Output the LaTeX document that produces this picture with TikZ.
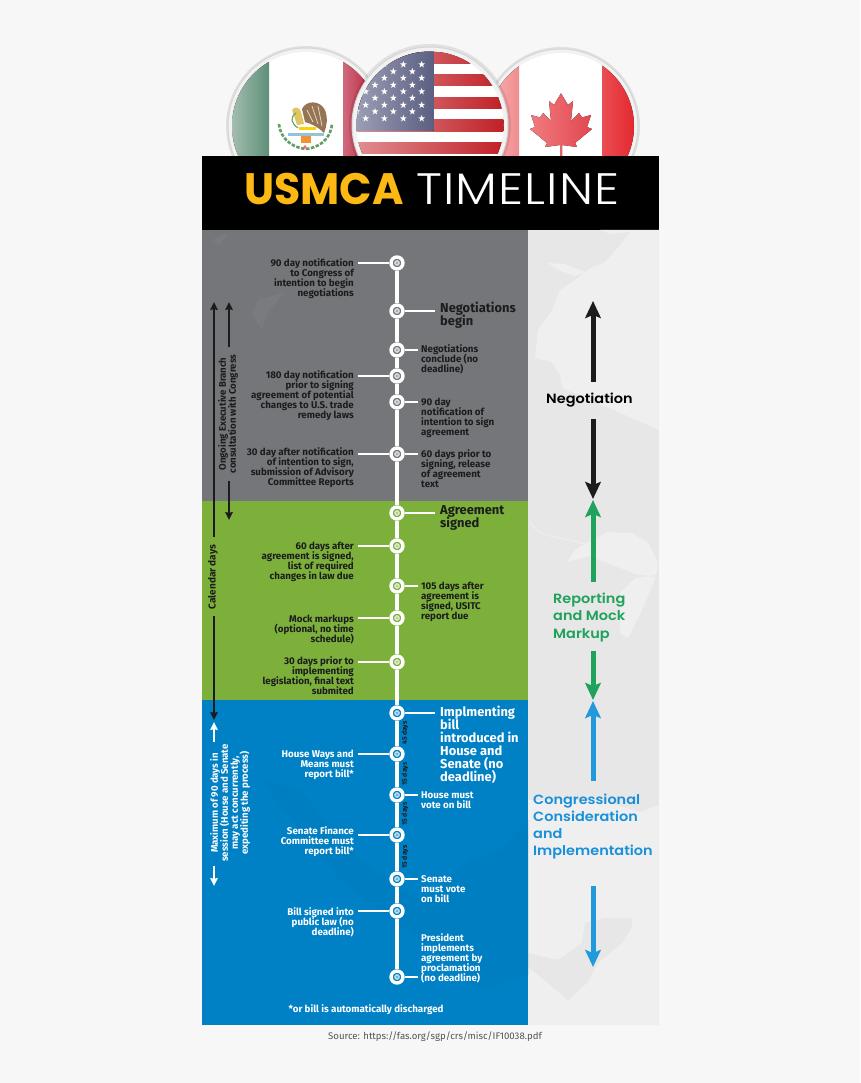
\documentclass[tikz,border=0pt]{standalone}
\usepackage{fontspec}
\usetikzlibrary{arrows.meta}
\setmainfont{Fira Sans}
\newfontfamily\popb{Poppins}[UprightFont=* Bold]
\newfontfamily\popl{Poppins}[UprightFont=* Light,FakeStretch=1.13,LetterSpace=2.5]
\newfontfamily\pops{Poppins}[UprightFont=* SemiBold,FakeStretch=1.08]
\lineskiplimit=-20pt
\lineskip=0pt
\definecolor{pagebg}{HTML}{F7F7F7}
\definecolor{graypanel}{HTML}{75767A}
\definecolor{greenpanel}{HTML}{7CB03B}
\definecolor{bluepanel}{HTML}{0081C6}
\definecolor{rightland}{HTML}{E7E7E7}
\definecolor{rightlight}{HTML}{EFEFEF}
\definecolor{titlegold}{HTML}{FDB913}
\definecolor{inkdark}{HTML}{1C1C1C}
\definecolor{armgreen}{HTML}{1FA25C}
\definecolor{armblue}{HTML}{2199DA}
\definecolor{txtblue}{HTML}{1A90DA}
\definecolor{mxgreenL}{HTML}{A3BDAE}
\definecolor{mxgreenR}{HTML}{5F8F78}
\definecolor{mxredL}{HTML}{CF6A7C}
\definecolor{mxredR}{HTML}{B8142E}
\definecolor{caredL}{HTML}{F9B4B6}
\definecolor{caredM}{HTML}{F08C90}
\definecolor{caredR}{HTML}{E32228}
\definecolor{caleafL}{HTML}{F07B80}
\definecolor{caleafR}{HTML}{E2474D}
\definecolor{usredL}{HTML}{E29396}
\definecolor{usredR}{HTML}{BE1C22}
\definecolor{usblueL}{HTML}{A0A3B8}
\definecolor{usblueR}{HTML}{5B5F82}
\newcommand{\fl}{\rule{0pt}{7.5pt}}
\newcommand{\usstar}[2]{\fill[white,shift={(#1,#2)},scale=1.2] (0,-3)--(-.7,-.95)--(-2.85,-.93)--(-1.13,.37)--(-1.76,2.43)--(0,1.2)--(1.76,2.43)--(1.13,.37)--(2.85,-.93)--(.7,-.95)--cycle;}
\tikzset{
  x=1pt,y=-1pt,
  rim/.style={fill=#1,draw=black!16,line width=1pt},
  halo/.style={fill=black,opacity=.09},
  stopring/.style={circle,draw=white,line width=3.4pt,fill=#1,minimum size=12pt,inner sep=0pt,
    path picture={\fill[white,opacity=.72] (path picture bounding box.center) circle (2.9);
                  \fill[#1,opacity=.6] (path picture bounding box.center) circle (1.2);}},
  spine/.style={draw=white,line width=3.4pt},
  branch/.style={draw=white,line width=2.2pt},
  lablabel/.style={inner sep=0pt,font=\fontsize{9.75}{10}\selectfont\bfseries,text=#1},
  leftlab/.style={lablabel=#1,anchor=north east,align=right},
  rightlab/.style={lablabel=#1,anchor=north west,align=left},
  biglab/.style={inner sep=0pt,font=\fontsize{12.9}{13}\selectfont\bfseries,text=#1,anchor=north west,align=left},
  sidelab/.style={inner sep=0pt,font=\fontsize{9.6}{10}\selectfont\bfseries,text=#1,rotate=90,align=center},
  daylab/.style={inner sep=0pt,font=\fontsize{6.8}{7}\selectfont\bfseries,text=inkdark,rotate=90},
  thin arrow/.style={draw=#1,line width=2pt,-{Stealth[length=8pt,width=7.5pt,inset=1pt]}},
  fat arrow/.style={draw=#1,line width=5pt,-{Stealth[length=17pt,width=15.5pt,inset=3pt]}},
  armtext/.style={inner sep=0pt,anchor=west,align=left,font=\fontsize{13.4}{17.3}\pops,text=#1},
}
\begin{document}
\begin{tikzpicture}
\useasboundingbox (0,0) rectangle (860,1083);
\fill[pagebg] (0,0) rectangle (860,1083);

% ---- flags
\fill[halo] (306,126) circle (80);
\fill[halo] (561,126) circle (79);
\fill[rim=white!95!black] (306,126) circle (78);
\begin{scope}
  \clip (306,126) circle (74);
  \fill[white] (232,50) rectangle (380,160);
  \fill[left color=mxgreenL,right color=mxgreenR] (232,50) rectangle (269,160);
  \fill[left color=mxredL,right color=mxredR] (343,50) rectangle (380,160);
  % emblem
  \draw[green!35!black!60!white,line width=2.6pt,dash pattern=on 3.5pt off 1.5pt] (279,124) .. controls (281,142) and (296,148) .. (306,149) .. controls (316,148) and (330,142) .. (332,124);
  \fill[brown!65!black!80!white] (302,109) .. controls (306,100) and (320,100) .. (325,110) .. controls (328,118) and (327,126) .. (324,133) .. controls (318,127) and (312,124) .. (305,122) -- cycle;
  \draw[white!70!brown,line width=.7pt] (312,106)--(318,124) (318,106)--(322,126) (307,110)--(313,122);
  \fill[yellow!40!brown!80!white] (292,110) .. controls (295,105) and (300,108) .. (301,112) -- (304,124) -- (297,125) -- cycle;
  \draw[green!40!black!60!white,line width=1.1pt] (296,113) .. controls (289,118) and (292,124) .. (298,128);
  \fill[yellow!70!orange] (299,127) rectangle (316,130);
  \fill[cyan!50!gray!65!white] (288,133) rectangle (324,136.5);
  \fill[orange!70!brown!85!white] (301,136) rectangle (311,143);
  \fill[red!60!white] (305,147) circle (1.8);
\end{scope}

\fill[rim=white!95!black] (561,126) circle (77);
\begin{scope}
  \clip (561,126) circle (73);
  \fill[white] (488,50) rectangle (640,160);
  \fill[left color=caredL,right color=caredM] (488,50) rectangle (519,160);
  \fill[left color=caredR!80!white,right color=caredR] (602,50) rectangle (640,160);
  \fill[left color=caleafL,right color=caleafR]
    (561,93.3)--(568,105)--(573,101)--(571,121)--(579,113)--(582,117.5)--(591,115)--(587,127)--(592,129)--(575,143)--(577,147)--(562,145)--(562,156)--(560,156)--(560,145)--(545,147)--(547,143)--(530,129)--(535,127)--(531,115)--(540,117.5)--(543,113)--(551,121)--(549,101)--(554,105)--cycle;
\end{scope}

\fill[halo] (430,125) circle (81);
\fill[rim=white!95!black] (430,125) circle (78);
\begin{scope}
  \clip (430,125) circle (73.5);
  \fill[white] (350,50) rectangle (510,205);
  \foreach \yy in {52,74.6,97.2,119.8,142.4}
    \fill[left color=usredL,right color=usredR] (350,\yy) rectangle (510,\yy+11.3);
  \fill[left color=usblueL,right color=usblueR] (350,50) rectangle (433.5,131);
  \foreach \yy in {64.5,78,91.5,105,118.5}{\foreach \xx in {365.7,384.3,403.3,421.7}{\usstar{\xx}{\yy}}}
  \foreach \yy in {71.5,85,98,111.5}{\foreach \xx in {356.7,375,393.3,412.3}{\usstar{\xx}{\yy}}}
\end{scope}

% ---- panels
\fill[black] (202,156) rectangle (659,230);
\fill[graypanel] (202,230) rectangle (528,501);
\fill[greenpanel] (202,501) rectangle (528,700);
\fill[bluepanel] (202,700) rectangle (528,1025);
\fill[rightland] (528,230) rectangle (659,1025);

% ---- faint map
\fill[rightlight] (600,230)--(610,234)--(630,232)--(620,245)--(605,262)--(590,268)--(575,280)--(560,290)--(552,310)--(538,330)--(535,358)--(552,362)--(560,375)--(562,388)--(590,400)--(625,415)--(659,430)--(659,230)--cycle;
\fill[rightlight] (548,263)--(565,264)--(585,272)--(575,276)--(558,270)--cycle;
\fill[rightlight] (567,562)--(575,550)--(588,542)--(608,532)--(632,533)--(648,543)--(658,563)--(656,575)--(635,578)--(620,593)--(620,633)--(628,638)--(642,610)--(656,577)--(635,574)--(600,560)--(590,556)--cycle;
\draw[rightlight,line width=1pt] (530,522) .. controls (540,540) and (560,535) .. (588,545);
\fill[rightlight] (528,800)--(600,800)--(640,812)--(659,805)--(659,1025)--(528,1025)--cycle;
\fill[rightland] (585,923)--(605,918)--(632,918)--(632,927)--(622,943)--(598,963)--(587,983)--(568,1000)--(548,983)--(528,967)--(528,953)--(558,960)--(582,943)--cycle;
\fill[graypanel!96!white] (258,300)--(285,292)--(268,312)--(262,330)--(252,315)--cycle;
\fill[graypanel!96!white] (212,240)--(228,233)--(220,245)--cycle;
\fill[bluepanel!98!black] (260,780)--(300,830)--(340,880)--(420,940)--(480,990)--(528,975)--(528,820)--(500,850)--(470,860)--(420,900)--(360,860)--(300,790)--cycle;

% ---- title
\node[inner sep=0pt,anchor=base west,font=\fontsize{44}{44}\popb,text=titlegold] (ttlA) at (244,205) {\scalebox{.97}[1]{USMCA}};
\node[inner sep=0pt,anchor=base west,font=\fontsize{44}{44}\popl,text=white] (ttlB) at (416,205) {TIMELINE};

% ---- stops
\node[stopring=graypanel] (s1) at (397,263) {};
\node[stopring=graypanel] (s2) at (397,311) {};
\node[stopring=graypanel] (s3) at (397,350) {};
\node[stopring=graypanel] (s4) at (397,376) {};
\node[stopring=graypanel] (s5) at (397,402) {};
\node[stopring=graypanel] (s6) at (397,454) {};
\node[stopring=greenpanel] (s7) at (397,513) {};
\node[stopring=greenpanel] (s8) at (397,546) {};
\node[stopring=greenpanel] (s9) at (397,586) {};
\node[stopring=greenpanel] (s10) at (397,618) {};
\node[stopring=greenpanel] (s11) at (397,662) {};
\node[stopring=bluepanel] (s12) at (397,713) {};
\node[stopring=bluepanel] (s13) at (397,754) {};
\node[stopring=bluepanel] (s14) at (397,795) {};
\node[stopring=bluepanel] (s15) at (397,835) {};
\node[stopring=bluepanel] (s16) at (397,879) {};
\node[stopring=bluepanel] (s17) at (397,911) {};
\node[stopring=bluepanel] (s18) at (397,977) {};
\draw[spine] (s1)--(s2) (s2)--(s3) (s3)--(s4) (s4)--(s5) (s5)--(s6) (s6)--(s7) (s7)--(s8) (s8)--(s9) (s9)--(s10) (s10)--(s11) (s11)--(s12) (s12)--(s13) (s13)--(s14) (s14)--(s15) (s15)--(s16) (s16)--(s17) (s17)--(s18);

% ---- branch ends
\foreach \nm/\xx/\yy in {e1/358/263,e2/435/311,e3/418/350,e4/358/376,e5/418/402,e6/358/454,f6/418/454,e7/435/513,e8/358/546,e9/418/586,e10/358/618,e11/358/662,e12/435/713,e13/358/754,e14/418/795,e15/358/835,e16/418/879,e17/358/911,e18/418/977}
  \coordinate (\nm) at (\xx,\yy);
\draw[branch] (s1)--(e1) (s2)--(e2) (s3)--(e3) (s4)--(e4) (s5)--(e5) (s6)--(e6) (s6)--(f6) (s7)--(e7) (s8)--(e8) (s9)--(e9) (s10)--(e10) (s11)--(e11) (s12)--(e12) (s13)--(e13) (s14)--(e14) (s15)--(e15) (s16)--(e16) (s17)--(e17) (s18)--(e18);

% ---- left labels
\node[leftlab=inkdark] (l1) at (354,258.7) {\fl 90 day notification\\to Congress of\\intention to begin\\negotiations};
\node[leftlab=inkdark] (l4) at (354,370.7) {\fl 180 day notification\\prior to signing\\agreement of potential\\changes to U.S. trade\\remedy laws};
\node[leftlab=inkdark] (l6) at (354,447.7) {\fl 30 day after notification\\of intention to sign,\\submission of Advisory\\Committee Reports};
\node[leftlab=inkdark] (l8) at (354,541.7) {\fl 60 days after\\agreement is signed,\\list of required\\changes in law due};
\node[leftlab=inkdark] (l10) at (354,614.7) {\fl Mock markups\\(optional, no time\\schedule)};
\node[leftlab=inkdark] (l11) at (354,656.7) {\fl 30 days prior to\\implementing\\legislation, final text\\submited};
\node[leftlab=white] (l13) at (354,749.7) {\fl House Ways and\\Means must\\report bill*};
\node[leftlab=white] (l15) at (354,826.7) {\fl Senate Finance\\Committee must\\report bill*};
\node[leftlab=white] (l17) at (354,907.7) {\fl Bill signed into\\public law (no\\deadline)};

% ---- right labels
\node[rightlab=inkdark] (r3) at (421,344.7) {\fl Negotiations\\conclude (no\\deadline)};
\node[rightlab=inkdark] (r5) at (421,397.7) {\fl 90 day\\notification of\\intention to sign\\agreement};
\node[rightlab=inkdark] (r6) at (421,449.7) {\fl 60 days prior to\\signing, release\\of agreement\\text};
\node[rightlab=inkdark] (r9) at (421,581.7) {\fl 105 days after\\agreement is\\signed, USITC\\report due};
\node[rightlab=white] (r14) at (421,790.7) {\fl House must\\vote on bill};
\node[rightlab=white] (r16) at (421,874.7) {\fl Senate\\must vote\\on bill};
\node[rightlab=white] (r18) at (421,933.7) {\fl President\\implements\\agreement by\\proclamation\\(no deadline)};
\node[biglab=inkdark] (b2) at (440,302) {Negotiations\\begin};
\node[biglab=inkdark] (b7) at (440,505.5) {Agreement\\signed};
\node[biglab=white] (b12) at (440,706) {Implmenting\\bill\\introduced in\\House and\\Senate (no\\deadline)};

% ---- day labels
\node[daylab] (d1) at (405,733) {45 days};
\node[daylab] (d2) at (405,774) {15 days};
\node[daylab] (d3) at (405,814) {15 days};
\node[daylab] (d4) at (405,857) {15 days};

% ---- side arrows
\node[sidelab=inkdark] (t1) at (228,414) {Ongoing Executive Branch\\consultation with Congress};
\node[sidelab=inkdark] (t2) at (213,577) {\fontsize{10}{10}\selectfont Calendar days};
\node[sidelab=white] (t3) at (230,803) {Maximum of 90 days in\\session (House and Senate\\may act concurrently,\\expediting the process)};
\coordinate (a1) at (229,347); \coordinate (a2) at (229,302);
\coordinate (a3) at (229,481); \coordinate (a4) at (229,520);
\coordinate (a5) at (214,537); \coordinate (a6) at (214,302);
\coordinate (a7) at (214,616); \coordinate (a8) at (214,720);
\coordinate (a9) at (214,742); \coordinate (a10) at (214,722);
\coordinate (a11) at (214,866); \coordinate (a12) at (214,886);
\draw[thin arrow=inkdark] (a1)--(a2);
\draw[thin arrow=inkdark] (a3)--(a4);
\draw[thin arrow=inkdark] (a5)--(a6);
\draw[thin arrow=inkdark] (a7)--(a8);
\draw[thin arrow=white] (a9)--(a10);
\draw[thin arrow=white] (a11)--(a12);

% ---- right column
\node[armtext=black] (h1) at (546,400) {Negotiation};
\node[armtext=armgreen] (h2) at (553,617.5) {Reporting\\and Mock\\Markup};
\node[armtext=txtblue] (h3) at (533,826.5) {Congressional\\Consideration\\and\\Implementation};
\coordinate (c1) at (593,382); \coordinate (c2) at (593,301);
\coordinate (c3) at (593,419); \coordinate (c4) at (593,499);
\coordinate (c5) at (593,582); \coordinate (c6) at (593,500);
\coordinate (c7) at (593,651); \coordinate (c8) at (593,700);
\coordinate (c9) at (593,781); \coordinate (c10) at (593,701);
\coordinate (c11) at (593,886); \coordinate (c12) at (593,967);
\draw[fat arrow=inkdark] (c1)--(c2);
\draw[fat arrow=inkdark] (c3)--(c4);
\draw[fat arrow=armgreen] (c5)--(c6);
\draw[fat arrow=armgreen] (c7)--(c8);
\draw[fat arrow=armblue] (c9)--(c10);
\draw[fat arrow=armblue] (c11)--(c12);

% ---- notes
\node[inner sep=0pt,font=\fontsize{9.75}{10}\selectfont\bfseries,text=white] (n1) at (366,1009.5) {*or bill is automatically discharged};
\node[inner sep=0pt,font=\fontsize{9.6}{10}\selectfont,text=black!68] (n2) at (435,1037) {Source: https://fas.org/sgp/crs/misc/IF10038.pdf};
\end{tikzpicture}
\end{document}
